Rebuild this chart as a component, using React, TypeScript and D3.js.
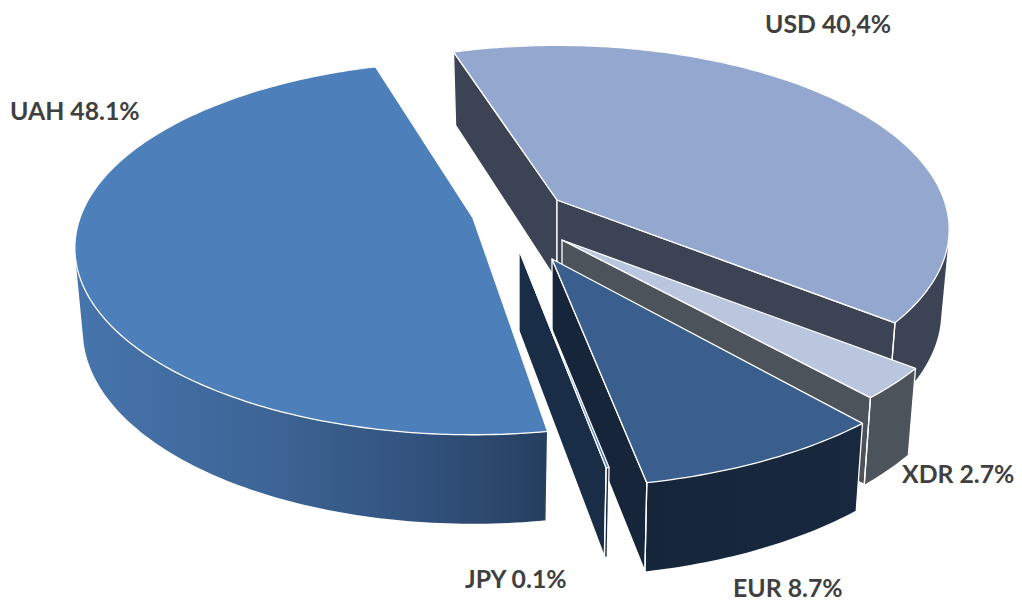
import React from "react";
import * as d3 from "d3";

// Data
const currencies = ["UAH", "USD", "XDR", "EUR", "JPY"];
const shares = [48.1, 40.4, 2.7, 8.7, 0.1];
const labels = ["UAH 48.1%", "USD 40,4%", "XDR 2.7%", "EUR 8.7%", "JPY 0.1%"];

// Layout of the exploded slices
const apexX = [473, 557, 562, 552, 519];
const apexY = [218, 200, 240, 259, 250];
const sliceScale = [0.995, 0.98, 1.025, 1.05, 1.02];
const startNudge = [1.3, -0.6, 0, 1, 0];
const endNudge = [0.7, 0, 0, -0.25, 0];
const topFill = ["#4d7fbb", "#93a7cf", "#b9c6de", "#3a5f8e", "#4f7fc0"];
const wallFill = ["url(#uahWall)", "#3c4355", "#4d535b", "url(#eurWall)", "#1a2d47"];
const drawOrder = ["USD", "XDR", "EUR", "JPY", "UAH"];
const labelX = [10, 765, 902, 733, 465];
const labelY = [120, 33, 483, 597, 588];

const RX = 395;
const RY = 183;
const PERSPECTIVE = 0.16;
const DEPTH = 81;
const DEPTH_PERSP = 8;
const BOTTOM_SHRINK = 0.98;
const START = (169.5 / 180) * Math.PI;
const DEG = Math.PI / 180;

type P = [number, number];

function project(theta: number) {
  const u = Math.sin(theta);
  const v = -Math.cos(theta);
  const k = 1 / (1 - PERSPECTIVE * v);
  return { dx: RX * u * k, dy: RY * v * k, v };
}

const line = d3.line<P>().x((d) => d[0]).y((d) => d[1]);

export default function App() {
  const arcs = d3
    .pie<number>()
    .sort(null)
    .startAngle(START)
    .endAngle(START + 2 * Math.PI)(shares);

  const slices = currencies.map((name, i) => {
    const a = arcs[i];
    const ax = apexX[i];
    const ay = apexY[i];
    const s = sliceScale[i];
    const t0 = a.startAngle + startNudge[i] * DEG;
    const t1 = a.endAngle + endNudge[i] * DEG;
    const n = Math.max(2, Math.ceil((t1 - t0) * 60));
    const thetas = d3.range(n + 1).map((j) => t0 + ((t1 - t0) * j) / n);
    const top = (t: number): P => {
      const p = project(t);
      return [ax + p.dx * s, ay + p.dy * s];
    };
    const bottom = (t: number): P => {
      const p = project(t);
      return [ax + p.dx * s * BOTTOM_SHRINK, ay + p.dy * s + DEPTH + DEPTH_PERSP * p.v];
    };
    const apexBottom: P = [ax, ay + DEPTH];
    const apexTop: P = [ax, ay];
    const topPts = thetas.map(top);
    const botPts = thetas.map(bottom);

    // the side band: union of equally oriented quads, so the silhouette stays filled
    const quads = d3.range(n).map((j) => {
      const q: P[] = [topPts[j], topPts[j + 1], botPts[j + 1], botPts[j]];
      return d3.polygonArea(q) < 0 ? q.slice().reverse() : q;
    });
    const band = quads.map((q) => line(q)! + "Z").join("");
    // only the edges facing the viewer get a white vertical line
    const rim = [0, n]
      .filter((j) => project(thetas[j]).v > 0)
      .map((j) => line([topPts[j], botPts[j]])!)
      .join("");

    // a cut wall shows only when "down" points away from the slice interior
    const mid = project((t0 + t1) / 2);
    const faces = (pt: P) => {
      const e = [pt[0] - ax, pt[1] - ay];
      const downSide = e[0];
      const midSide = e[0] * mid.dy - e[1] * mid.dx;
      return downSide * midSide < 0;
    };
    const walls: string[] = [];
    if (faces(topPts[0])) walls.push(line([apexTop, topPts[0], botPts[0], apexBottom])! + "Z");
    if (faces(topPts[n])) walls.push(line([apexTop, topPts[n], botPts[n], apexBottom])! + "Z");

    return {
      name,
      i,
      band,
      rim,
      walls,
      topPath: line([apexTop, ...topPts])! + "Z",
    };
  });

  const ordered = drawOrder.map((name) => slices.find((s) => s.name === name)!);

  return (
    <svg
      width={1022}
      height={601}
      viewBox="0 0 1022 601"
      style={{ position: "absolute", left: 0, top: 0, display: "block" }}
    >
      <defs>
        <linearGradient id="uahWall" gradientUnits="userSpaceOnUse" x1={80} y1={0} x2={546} y2={0}>
          <stop offset="0" stopColor="#4674ac" />
          <stop offset="0.4" stopColor="#3d6596" />
          <stop offset="0.75" stopColor="#31517b" />
          <stop offset="1" stopColor="#263f5f" />
        </linearGradient>
        <linearGradient id="eurWall" gradientUnits="userSpaceOnUse" x1={600} y1={0} x2={860} y2={0}>
          <stop offset="0" stopColor="#162539" />
          <stop offset="1" stopColor="#17283f" />
        </linearGradient>
      </defs>
      {ordered.map((s) => (
        <g key={s.name}>
          <path d={s.band} fill={wallFill[s.i]} fillRule="nonzero" />
          {s.walls.map((w, k) => (
            <path key={k} d={w} fill={wallFill[s.i]} stroke="#fff" strokeWidth={1.3} strokeLinejoin="round" />
          ))}
          <path d={s.rim} fill="none" stroke="#fff" strokeWidth={1.3} />
          <path d={s.topPath} fill={topFill[s.i]} stroke="#fff" strokeWidth={1.3} strokeLinejoin="round" />
        </g>
      ))}
      {labels.map((t, i) => (
        <text
          key={t}
          x={labelX[i]}
          y={labelY[i]}
          fontFamily="Lato, 'Open Sans', sans-serif"
          fontWeight={700}
          fontSize={24.8}
          fill="#404040"
        >
          {t}
        </text>
      ))}
    </svg>
  );
}
